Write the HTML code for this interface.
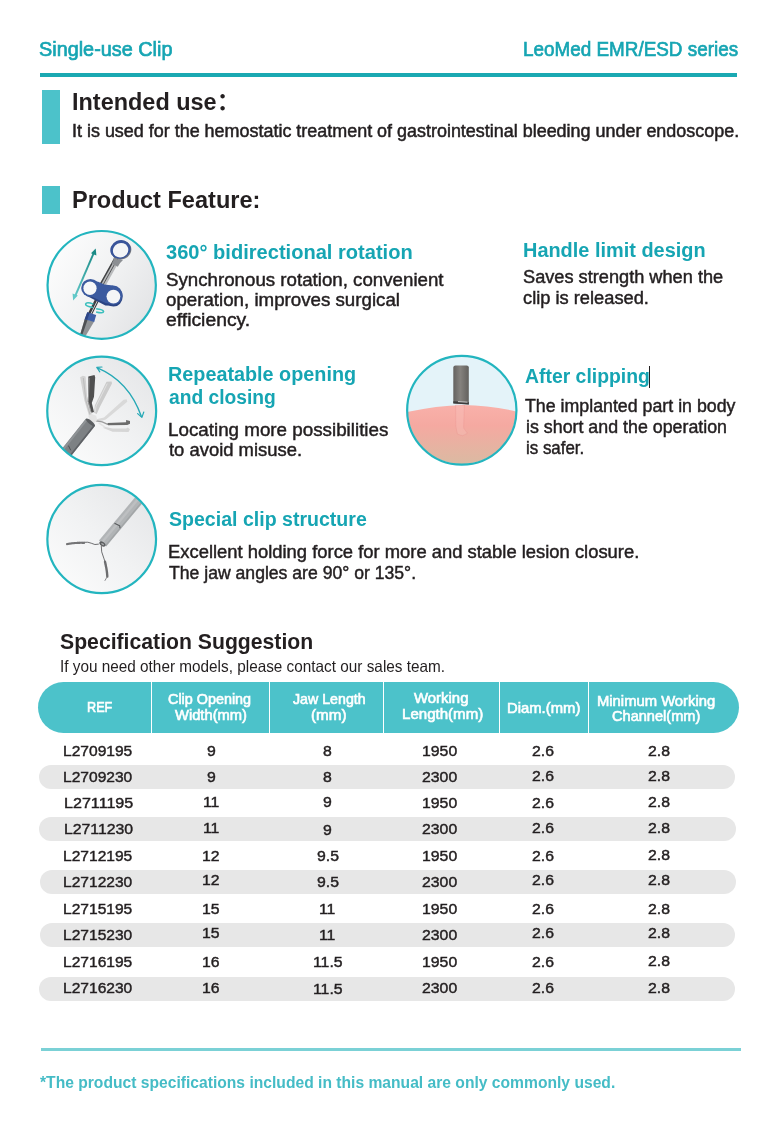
<!DOCTYPE html>
<html lang="en">
<head>
<meta charset="utf-8">
<title>Single-use Clip - LeoMed EMR/ESD series</title>
<style>
html,body{margin:0;padding:0;background:#fff}
#page{position:relative;width:775px;height:1125px;overflow:hidden;background:#fff;
  font-family:"Liberation Sans","Noto Sans CJK SC",sans-serif;color:#231f20}
.t{position:absolute;white-space:nowrap;line-height:1;transform-origin:0 0;display:block}
.r{position:absolute}
svg{position:absolute;left:0;top:0}
</style>
</head>
<body>
<div id="page">
<!-- header rule -->
<div class="r" style="left:40px;top:73px;width:697px;height:3.5px;background:#1aa9b2"></div>
<!-- section bars -->
<div class="r" style="left:42px;top:90px;width:18px;height:53.5px;background:#4cc2ca"></div>
<div class="r" style="left:42px;top:186px;width:18px;height:27.5px;background:#4cc2ca"></div>
<!-- table -->
<div class="r" style="left:38.4px;top:682px;width:700.8px;height:51px;border-radius:25.5px;background:#4cc2ca"></div>
<div class="r" style="left:150.6px;top:682px;width:1.3px;height:51px;background:#fff"></div>
<div class="r" style="left:269px;top:682px;width:1.3px;height:51px;background:#fff"></div>
<div class="r" style="left:382.8px;top:682px;width:1.3px;height:51px;background:#fff"></div>
<div class="r" style="left:499px;top:682px;width:1.3px;height:51px;background:#fff"></div>
<div class="r" style="left:587.8px;top:682px;width:1.3px;height:51px;background:#fff"></div>
<div class="r" style="left:38.6px;top:765px;width:696.4px;height:24px;border-radius:12px;background:#e7e7e7"></div>
<div class="r" style="left:39.4px;top:817px;width:696.6px;height:24px;border-radius:12px;background:#e7e7e7"></div>
<div class="r" style="left:39.6px;top:869.6px;width:696.4px;height:24px;border-radius:12px;background:#e7e7e7"></div>
<div class="r" style="left:39.6px;top:923px;width:695.4px;height:24.4px;border-radius:12px;background:#e7e7e7"></div>
<div class="r" style="left:39px;top:977.4px;width:696px;height:24px;border-radius:12px;background:#e7e7e7"></div>
<!-- footer rule -->
<div class="r" style="left:41px;top:1048px;width:700px;height:2.6px;background:#7bd1d6"></div>
<!-- caret -->
<div class="r" style="left:649.2px;top:365.8px;width:1.2px;height:22.6px;background:#231f20"></div>
<!-- illustrations -->
<svg width="775" height="1125" viewBox="0 0 775 1125">
<defs>
  <linearGradient id="gbg" x1="0" y1="0.2" x2="1" y2="0.8">
    <stop offset="0" stop-color="#fdfdfd"/><stop offset="0.55" stop-color="#f0f1f2"/><stop offset="1" stop-color="#e2e3e5"/>
  </linearGradient>
  <linearGradient id="gbg2" x1="0" y1="1" x2="1" y2="0">
    <stop offset="0" stop-color="#fdfdfd"/><stop offset="0.5" stop-color="#f1f2f3"/><stop offset="1" stop-color="#e3e4e6"/>
  </linearGradient>
  <linearGradient id="garrow" x1="95" y1="249" x2="74" y2="300" gradientUnits="userSpaceOnUse">
    <stop offset="0" stop-color="#178783"/><stop offset="1" stop-color="#66cccc"/>
  </linearGradient>
  <linearGradient id="gtissue" x1="0" y1="404" x2="0" y2="466" gradientUnits="userSpaceOnUse">
    <stop offset="0" stop-color="#f9b1aa"/><stop offset="0.35" stop-color="#f5a9a1"/><stop offset="1" stop-color="#d9bba2"/>
  </linearGradient>
  <linearGradient id="gtube3" x1="453" y1="0" x2="469" y2="0" gradientUnits="userSpaceOnUse">
    <stop offset="0" stop-color="#63615f"/><stop offset="0.45" stop-color="#85827e"/><stop offset="1" stop-color="#62605d"/>
  </linearGradient>
  <clipPath id="c1"><circle cx="101.7" cy="284.9" r="53.6"/></clipPath>
  <clipPath id="c2"><circle cx="101.7" cy="410.9" r="53.8"/></clipPath>
  <clipPath id="c3"><circle cx="461.8" cy="410.2" r="54"/></clipPath>
  <clipPath id="c4"><circle cx="101.7" cy="539" r="53.7"/></clipPath>
</defs>

<!-- circle 1 : handle -->
<circle cx="101.7" cy="284.9" r="53.8" fill="url(#gbg)"/>
<g clip-path="url(#c1)">
  <!-- push/pull arrow -->
  <line x1="93.6" y1="253.4" x2="75.2" y2="296" stroke="url(#garrow)" stroke-width="1.9"/>
  <polygon points="95.7,248.6 96.4,255.6 91,253.2" fill="#1a8a85"/>
  <polygon points="73.1,300.4 72.6,293.4 77.8,295.6" fill="#62c9c9"/>
  <!-- upper shaft -->
  <line x1="117.6" y1="258" x2="102" y2="286" stroke="#b9bbbd" stroke-width="6"/>
  <line x1="115.6" y1="256.9" x2="100" y2="284.9" stroke="#3f4042" stroke-width="1.4"/>
  <line x1="117.9" y1="258.2" x2="102.3" y2="286.2" stroke="#4a4b4d" stroke-width="0.9"/>
  <!-- lower shaft -->
  <line x1="98" y1="298" x2="89" y2="316" stroke="#3f4042" stroke-width="4.2"/>
  <line x1="98.6" y1="298.3" x2="89.6" y2="316.3" stroke="#c9cacc" stroke-width="1"/>
  <!-- taper -->
  <polygon points="84.8,319 94.2,321.6 85.6,336 80.2,334.6" fill="#8f9295"/>
  <polygon points="84.8,319 87.6,319.8 82.2,335.2 80.2,334.6" fill="#4e5053"/>
  <!-- collar -->
  <polygon points="87.3,312.2 96.2,314.9 94.2,321.9 84.7,319.2" fill="#3e5ea6"/>
  <polygon points="87.3,312.2 89.6,312.9 87.2,319.9 84.7,319.2" fill="#2d4584"/>
  <!-- thumb ring -->
  <path d="M113.8,257.2 Q116,259.6 123,260 Q119.6,262.8 117.8,266.8 L111.6,263.6 Q113.8,260.6 113.8,257.2Z" fill="#8c8f93"/>
  <ellipse cx="121.2" cy="250.2" rx="10.3" ry="9.2" fill="#71757f" transform="rotate(-25 121.2 250.2)"/>
  <ellipse cx="120.4" cy="249.4" rx="10.3" ry="9.2" fill="#39549a" transform="rotate(-25 120.4 249.4)"/>
  <ellipse cx="120.6" cy="250.2" rx="7.8" ry="7.1" fill="#f3f4f6" transform="rotate(-25 120.6 250.2)"/>
  <!-- finger piece -->
  <ellipse cx="113.6" cy="296.6" rx="9.1" ry="10" fill="#2b4483"/>
  <polygon points="86,295.6 105.4,305.4 112,305.8 112,300 92,292" fill="#2b4483"/>
  <ellipse cx="90.5" cy="287.9" rx="9.3" ry="9" fill="#3b5a9f"/>
  <ellipse cx="113.4" cy="295.2" rx="9" ry="9.6" fill="#3b5a9f"/>
  <polygon points="97.6,281.6 104.4,284.6 113,285.6 113,303.6 106,303.2 89,295.6" fill="#3b5a9f"/>
  <ellipse cx="90" cy="288.2" rx="6.6" ry="6.7" fill="#f6f7f8"/>
  <ellipse cx="113.4" cy="296.6" rx="6.9" ry="6.9" fill="#f4f5f6"/>
  <!-- rotation arrows -->
  <path d="M93.5,304.1 Q86.4,301.6 85.6,304 Q85.4,306.4 93,307.4" fill="none" stroke="#3bbfbd" stroke-width="1.5"/>
  <path d="M96.1,308.7 Q103,309.4 103.6,311.4 Q103.4,313.8 96.1,311.9" fill="none" stroke="#3bbfbd" stroke-width="1.5"/>
</g>
<ellipse cx="101.7" cy="284.9" rx="54.15" ry="53.90" fill="none" stroke="#23b5bf" stroke-width="2.2"/>

<!-- circle 2 : repeatable opening -->
<circle cx="101.7" cy="410.9" r="54" fill="url(#gbg2)"/>
<g clip-path="url(#c2)" stroke-linecap="round" fill="none">
  <!-- jaws -->
  <polygon points="80.1,377.2 82.9,375.7 85.6,376.5 87.1,396.8 91.8,413.9 91.8,418.2 89.6,417.6 84.4,400.5" fill="#d2d2d2" stroke="none"/>
  <path d="M83.4,378.4 L85.9,400.5 L89.9,413.9" stroke="#b9b9b9" stroke-width="0.9"/>
  <polygon points="106.5,381.8 111.6,381.5 112.0,383.5 99.7,407.2 96.7,413.9 94.0,412.7 94.8,405.4" fill="#cbcbcb" stroke="none"/>
  <path d="M107.1,383.9 L96.1,406.0 L95.2,412.1" stroke="#e6e6e6" stroke-width="0.8"/>
  <polygon points="88.3,376.5 94.5,375.0 95.2,377.2 94.0,396.8 91.8,402.9 94.0,412.1 91.5,412.7 87.9,401.7" fill="#505050" stroke="none"/>
  <path d="M89.1,378.4 L88.3,401.7 L90.8,411.5" stroke="#9a9a9a" stroke-width="0.9"/>
  <polygon points="95.5,419.5 104.0,417.6 123.6,399.8 126.7,399.2 127.3,401.7 105.9,419.5 97.3,421.9" fill="#d9d9d9" stroke="none"/>
  <polygon points="104.0,426.8 112.6,428.6 126.1,428.6 127.9,427.4 130.0,429.3 128.5,432.1 112.6,431.7 103.4,428.0" fill="#d6d6d6" stroke="none"/>
  <path d="M96.1,420.9 L102.2,421.9 L107.7,424.4" stroke="#9c9c9c" stroke-width="1.2"/>
  <polygon points="107.5,423.1 126.1,422.3 126.1,420.1 130.0,421.0 130.0,423.7 127.3,425.0 108.0,425.2" fill="#6c6c6c" stroke="none"/>
  <path d="M99.1,423.1 L104.6,426.8" stroke="#e2e2e2" stroke-width="1.6"/>
  <polygon points="88.1,415.8 91.8,413.9 96.1,415.8 97.3,420.1 94.2,423.1 89.9,420.1" fill="#e4e4e4" stroke="none"/>
  <!-- tube -->
  <line x1="60" y1="460.6" x2="90.2" y2="422.6" stroke="#7d8184" stroke-width="11.6" stroke-linecap="butt"/>
  <line x1="56.4" y1="457.8" x2="86.6" y2="419.8" stroke="#8f9396" stroke-width="2" stroke-linecap="butt"/>
  <line x1="64" y1="463.6" x2="94" y2="425.8" stroke="#5e6165" stroke-width="1.6" stroke-linecap="butt"/>
  <ellipse cx="90.4" cy="422.4" rx="5.8" ry="1.8" transform="rotate(38.5 90.4 422.4)" fill="#5b5e61" stroke="none"/>
  <line x1="68.6" y1="446" x2="70.6" y2="450" stroke="#4f5255" stroke-width="1"/>
  <!-- arc arrow -->
  <path d="M97.4,367.8 Q129,381 141.4,416.6" stroke="#27a9b6" stroke-width="1.4"/>
  <path d="M102,367 L96.8,367.4 L99.8,371.8" stroke="#27a9b6" stroke-width="1.2" stroke-linejoin="round"/>
  <path d="M137.6,413.6 L141.9,417.4 L143.8,412" stroke="#27a9b6" stroke-width="1.2" stroke-linejoin="round"/>
</g>
<ellipse cx="101.7" cy="410.9" rx="54.45" ry="54.20" fill="none" stroke="#23b5bf" stroke-width="2.2"/>

<!-- circle 3 : after clipping -->
<circle cx="461.8" cy="410.2" r="54.2" fill="#e4f3f9"/>
<g clip-path="url(#c3)">
  <path d="M405,412.4 Q436,405.6 463,404.9 Q492,405.2 519,412.2 L519,470 L405,470 Z" fill="url(#gtissue)"/>
  <!-- tube -->
  <path d="M453.3,367.5 Q453.3,365.4 455.5,365.4 L466.6,365.4 Q468.8,365.4 468.8,367.5 L468.8,404.4 L453.3,403.2 Z" fill="url(#gtube3)"/>
  <path d="M453.3,401.2 L468.8,402.2 L468.8,404.6 L453.3,403.4 Z" fill="#3c3c3c"/>
  <path d="M458,401.6 L467.5,402.2" stroke="#d8d8d8" stroke-width="0.9"/>
  <!-- implanted clip -->
  <path d="M455.6,405 L464.4,405 L463.6,428 L467.4,433.2 L462.6,435.8 L457.4,434 L455.8,426 Z" fill="#fbd3ce" fill-opacity="0.22" stroke="#ea8f8c" stroke-opacity="0.6" stroke-width="0.5"/>
</g>
<ellipse cx="461.8" cy="410.2" rx="54.65" ry="54.40" fill="none" stroke="#23b5bf" stroke-width="2.2"/>

<!-- circle 4 : special clip structure -->
<circle cx="101.7" cy="539" r="53.9" fill="url(#gbg2)"/>
<g clip-path="url(#c4)" fill="none">
  <line x1="150.6" y1="486" x2="102.6" y2="543.6" stroke="#b1b4b6" stroke-width="9.4"/>
  <line x1="149.6" y1="485.2" x2="101.6" y2="542.8" stroke="#bdbfc1" stroke-width="2.4"/>
  <line x1="153.4" y1="488.3" x2="105.4" y2="545.9" stroke="#a2a5a7" stroke-width="1.4"/>
  <path d="M114.5,523.3 L119.7,525.8 L120.0,528.2" stroke="#55575a" stroke-width="1.1"/>
  <ellipse cx="102.4" cy="544" rx="3.4" ry="2" transform="rotate(35 102.4 544)" fill="#5c5e60"/>
  <ellipse cx="102.6" cy="544.1" rx="1.6" ry="0.8" transform="rotate(35 102.6 544.1)" fill="#a9abad"/>
  <!-- arms -->
  <path d="M98.8,544.1 Q94.8,545.4 91.2,543.2 Q88.1,541.7 83.8,542.3" stroke="#5f5f61" stroke-width="0.9"/>
  <path d="M84.1,542.9 Q75.8,542.5 67.0,544.1" stroke="#747476" stroke-width="2.1" stroke-linecap="round" stroke-dasharray="1.2 0.45"/>
  <path d="M101.3,545.9 Q100.8,551.7 103.8,558.1 L105.0,561.8" stroke="#5f5f61" stroke-width="0.9"/>
  <path d="M105.0,561.8 Q107.0,570.1 107.3,576.5" stroke="#6d6d6f" stroke-width="2.4" stroke-linecap="round" stroke-dasharray="1.2 0.45"/>
  <path d="M107.3,576.5 L104.8,580.8" stroke="#6d6d6f" stroke-width="0.8"/>
</g>
<ellipse cx="101.7" cy="539" rx="54.35" ry="54.10" fill="none" stroke="#23b5bf" stroke-width="2.2"/>
</svg>

<!-- text layer -->
<span class="t" style="left:38.83px;top:38.00px;font-size:21px;color:#16a5b3;-webkit-text-stroke:0.7px currentColor;transform:scaleX(0.9447)">Single-use Clip</span>
<span class="t" style="left:523.38px;top:38.00px;font-size:21px;color:#16a5b3;-webkit-text-stroke:0.7px currentColor;transform:scaleX(0.8989)">LeoMed EMR/ESD series</span>
<span class="t" style="left:72.10px;top:90.80px;font-size:23.5px;font-weight:700;transform:scaleX(0.9980)">Intended use：</span>
<span class="t" style="left:72.22px;top:122.50px;font-size:17.5px;-webkit-text-stroke:0.5px currentColor;transform:scaleX(1.0251)">It is used for the hemostatic treatment of gastrointestinal bleeding under endoscope.</span>
<span class="t" style="left:72.10px;top:188.80px;font-size:23.5px;font-weight:700;transform:scaleX(1.0019)">Product Feature:</span>
<span class="t" style="left:165.99px;top:242.50px;font-size:19.5px;font-weight:700;color:#16a5b3;transform:scaleX(1.0294)">360° bidirectional rotation</span>
<span class="t" style="left:165.97px;top:271.70px;font-size:17.5px;-webkit-text-stroke:0.45px currentColor;transform:scaleX(1.0685)">Synchronous rotation, convenient</span>
<span class="t" style="left:165.97px;top:291.50px;font-size:17.5px;-webkit-text-stroke:0.45px currentColor;transform:scaleX(1.0690)">operation, improves surgical</span>
<span class="t" style="left:165.95px;top:312.00px;font-size:17.5px;-webkit-text-stroke:0.45px currentColor;transform:scaleX(1.1044)">efficiency.</span>
<span class="t" style="left:522.72px;top:241.00px;font-size:19.5px;font-weight:700;color:#16a5b3;transform:scaleX(1.0213)">Handle limit design</span>
<span class="t" style="left:523.48px;top:269.00px;font-size:17.5px;-webkit-text-stroke:0.45px currentColor;transform:scaleX(1.0392)">Saves strength when the</span>
<span class="t" style="left:523.48px;top:290.00px;font-size:17.5px;-webkit-text-stroke:0.45px currentColor;transform:scaleX(1.0442)">clip is released.</span>
<span class="t" style="left:167.73px;top:365.00px;font-size:19.5px;font-weight:700;color:#16a5b3;transform:scaleX(1.0150)">Repeatable opening</span>
<span class="t" style="left:168.51px;top:388.00px;font-size:19.5px;font-weight:700;color:#16a5b3;transform:scaleX(0.9859)">and closing</span>
<span class="t" style="left:167.66px;top:422.00px;font-size:17.5px;-webkit-text-stroke:0.45px currentColor;transform:scaleX(1.0737)">Locating more possibilities</span>
<span class="t" style="left:169.00px;top:442.00px;font-size:17.5px;-webkit-text-stroke:0.45px currentColor;transform:scaleX(1.0520)">to avoid misuse.</span>
<span class="t" style="left:524.50px;top:367.00px;font-size:19.5px;font-weight:700;color:#16a5b3;transform:scaleX(0.9939)">After clipping</span>
<span class="t" style="left:525.35px;top:398.00px;font-size:17.5px;-webkit-text-stroke:0.45px currentColor;transform:scaleX(1.0157)">The implanted part in body</span>
<span class="t" style="left:525.98px;top:419.00px;font-size:17.5px;-webkit-text-stroke:0.45px currentColor;transform:scaleX(1.0179)">is short and the operation</span>
<span class="t" style="left:526.03px;top:440.00px;font-size:17.5px;-webkit-text-stroke:0.45px currentColor;transform:scaleX(0.9655)">is safer.</span>
<span class="t" style="left:168.50px;top:510.00px;font-size:19.5px;font-weight:700;color:#16a5b3;transform:scaleX(1.0026)">Special clip structure</span>
<span class="t" style="left:167.69px;top:544.00px;font-size:17.5px;-webkit-text-stroke:0.45px currentColor;transform:scaleX(1.0510)">Excellent holding force for more and stable lesion closure.</span>
<span class="t" style="left:168.75px;top:565.00px;font-size:17.5px;-webkit-text-stroke:0.45px currentColor;transform:scaleX(1.0061)">The jaw angles are 90° or 135°.</span>
<span class="t" style="left:60.29px;top:630.80px;font-size:22.5px;font-weight:700;transform:scaleX(0.9421)">Specification Suggestion</span>
<span class="t" style="left:59.91px;top:657.70px;font-size:16.5px;transform:scaleX(0.9288)">If you need other models, please contact our sales team.</span>
<span class="t" style="left:86.53px;top:700.00px;font-size:14.5px;color:#ffffff;-webkit-text-stroke:0.6px currentColor;transform:scaleX(0.8721)">REF</span>
<span class="t" style="left:167.50px;top:692.20px;font-size:14.5px;color:#ffffff;-webkit-text-stroke:0.6px currentColor;transform:scaleX(0.9909)">Clip Opening</span>
<span class="t" style="left:175.45px;top:708.00px;font-size:14.5px;color:#ffffff;-webkit-text-stroke:0.6px currentColor;transform:scaleX(1.0156)">Width(mm)</span>
<span class="t" style="left:293.20px;top:692.20px;font-size:14.5px;color:#ffffff;-webkit-text-stroke:0.6px currentColor;transform:scaleX(0.9796)">Jaw Length</span>
<span class="t" style="left:310.67px;top:708.00px;font-size:14.5px;color:#ffffff;-webkit-text-stroke:0.6px currentColor;transform:scaleX(1.0504)">(mm)</span>
<span class="t" style="left:413.76px;top:690.80px;font-size:14.5px;color:#ffffff;-webkit-text-stroke:0.6px currentColor;transform:scaleX(1.0286)">Working</span>
<span class="t" style="left:401.71px;top:706.80px;font-size:14.5px;color:#ffffff;-webkit-text-stroke:0.6px currentColor;transform:scaleX(1.0392)">Length(mm)</span>
<span class="t" style="left:506.98px;top:701.40px;font-size:14.5px;color:#ffffff;-webkit-text-stroke:0.6px currentColor;transform:scaleX(1.0229)">Diam.(mm)</span>
<span class="t" style="left:597.38px;top:694.00px;font-size:14.5px;color:#ffffff;-webkit-text-stroke:0.6px currentColor;transform:scaleX(1.0211)">Minimum Working</span>
<span class="t" style="left:611.50px;top:709.00px;font-size:14.5px;color:#ffffff;-webkit-text-stroke:0.6px currentColor;transform:scaleX(1.0052)">Channel(mm)</span>
<span class="t" style="left:62.80px;top:742.80px;font-size:15.5px;-webkit-text-stroke:0.45px currentColor;transform:scaleX(1.0044)">L2709195</span>
<span class="t" style="left:206.86px;top:742.80px;font-size:15.5px;-webkit-text-stroke:0.45px currentColor;transform:scaleX(1.0200)">9</span>
<span class="t" style="left:323.34px;top:742.80px;font-size:15.5px;-webkit-text-stroke:0.45px currentColor;transform:scaleX(1.0200)">8</span>
<span class="t" style="left:421.65px;top:742.80px;font-size:15.5px;-webkit-text-stroke:0.45px currentColor;transform:scaleX(1.0200)">1950</span>
<span class="t" style="left:532.24px;top:742.80px;font-size:15.5px;-webkit-text-stroke:0.45px currentColor;transform:scaleX(1.0200)">2.6</span>
<span class="t" style="left:647.63px;top:742.80px;font-size:15.5px;-webkit-text-stroke:0.45px currentColor;transform:scaleX(1.0200)">2.8</span>
<span class="t" style="left:62.80px;top:769.00px;font-size:15.5px;-webkit-text-stroke:0.45px currentColor;transform:scaleX(1.0044)">L2709230</span>
<span class="t" style="left:206.86px;top:769.00px;font-size:15.5px;-webkit-text-stroke:0.45px currentColor;transform:scaleX(1.0200)">9</span>
<span class="t" style="left:323.34px;top:769.00px;font-size:15.5px;-webkit-text-stroke:0.45px currentColor;transform:scaleX(1.0200)">8</span>
<span class="t" style="left:421.90px;top:769.00px;font-size:15.5px;-webkit-text-stroke:0.45px currentColor;transform:scaleX(1.0200)">2300</span>
<span class="t" style="left:532.24px;top:767.50px;font-size:15.5px;-webkit-text-stroke:0.45px currentColor;transform:scaleX(1.0200)">2.6</span>
<span class="t" style="left:647.63px;top:767.50px;font-size:15.5px;-webkit-text-stroke:0.45px currentColor;transform:scaleX(1.0200)">2.8</span>
<span class="t" style="left:63.56px;top:795.20px;font-size:15.5px;-webkit-text-stroke:0.45px currentColor;transform:scaleX(1.0391)">L2711195</span>
<span class="t" style="left:202.78px;top:793.90px;font-size:15.5px;-webkit-text-stroke:0.45px currentColor;transform:scaleX(1.0200)">11</span>
<span class="t" style="left:323.47px;top:793.90px;font-size:15.5px;-webkit-text-stroke:0.45px currentColor;transform:scaleX(1.0200)">9</span>
<span class="t" style="left:421.65px;top:795.20px;font-size:15.5px;-webkit-text-stroke:0.45px currentColor;transform:scaleX(1.0200)">1950</span>
<span class="t" style="left:532.24px;top:794.70px;font-size:15.5px;-webkit-text-stroke:0.45px currentColor;transform:scaleX(1.0200)">2.6</span>
<span class="t" style="left:648.43px;top:794.20px;font-size:15.5px;-webkit-text-stroke:0.45px currentColor;transform:scaleX(1.0200)">2.8</span>
<span class="t" style="left:63.58px;top:821.40px;font-size:15.5px;-webkit-text-stroke:0.45px currentColor;transform:scaleX(1.0195)">L2711230</span>
<span class="t" style="left:202.78px;top:819.60px;font-size:15.5px;-webkit-text-stroke:0.45px currentColor;transform:scaleX(1.0200)">11</span>
<span class="t" style="left:323.47px;top:822.20px;font-size:15.5px;-webkit-text-stroke:0.45px currentColor;transform:scaleX(1.0200)">9</span>
<span class="t" style="left:421.90px;top:821.40px;font-size:15.5px;-webkit-text-stroke:0.45px currentColor;transform:scaleX(1.0200)">2300</span>
<span class="t" style="left:532.24px;top:819.90px;font-size:15.5px;-webkit-text-stroke:0.45px currentColor;transform:scaleX(1.0200)">2.6</span>
<span class="t" style="left:648.43px;top:819.90px;font-size:15.5px;-webkit-text-stroke:0.45px currentColor;transform:scaleX(1.0200)">2.8</span>
<span class="t" style="left:62.80px;top:847.80px;font-size:15.5px;-webkit-text-stroke:0.45px currentColor;transform:scaleX(1.0044)">L2712195</span>
<span class="t" style="left:202.15px;top:847.80px;font-size:15.5px;-webkit-text-stroke:0.45px currentColor;transform:scaleX(1.0200)">12</span>
<span class="t" style="left:316.84px;top:847.80px;font-size:15.5px;-webkit-text-stroke:0.45px currentColor;transform:scaleX(1.0200)">9.5</span>
<span class="t" style="left:421.65px;top:847.80px;font-size:15.5px;-webkit-text-stroke:0.45px currentColor;transform:scaleX(1.0200)">1950</span>
<span class="t" style="left:532.24px;top:847.80px;font-size:15.5px;-webkit-text-stroke:0.45px currentColor;transform:scaleX(1.0200)">2.6</span>
<span class="t" style="left:648.43px;top:847.00px;font-size:15.5px;-webkit-text-stroke:0.45px currentColor;transform:scaleX(1.0200)">2.8</span>
<span class="t" style="left:62.80px;top:873.80px;font-size:15.5px;-webkit-text-stroke:0.45px currentColor;transform:scaleX(1.0044)">L2712230</span>
<span class="t" style="left:202.15px;top:872.00px;font-size:15.5px;-webkit-text-stroke:0.45px currentColor;transform:scaleX(1.0200)">12</span>
<span class="t" style="left:316.84px;top:874.30px;font-size:15.5px;-webkit-text-stroke:0.45px currentColor;transform:scaleX(1.0200)">9.5</span>
<span class="t" style="left:421.90px;top:873.80px;font-size:15.5px;-webkit-text-stroke:0.45px currentColor;transform:scaleX(1.0200)">2300</span>
<span class="t" style="left:532.24px;top:872.30px;font-size:15.5px;-webkit-text-stroke:0.45px currentColor;transform:scaleX(1.0200)">2.6</span>
<span class="t" style="left:648.43px;top:872.30px;font-size:15.5px;-webkit-text-stroke:0.45px currentColor;transform:scaleX(1.0200)">2.8</span>
<span class="t" style="left:62.80px;top:900.80px;font-size:15.5px;-webkit-text-stroke:0.45px currentColor;transform:scaleX(1.0044)">L2715195</span>
<span class="t" style="left:202.15px;top:900.80px;font-size:15.5px;-webkit-text-stroke:0.45px currentColor;transform:scaleX(1.0200)">15</span>
<span class="t" style="left:319.38px;top:900.80px;font-size:15.5px;-webkit-text-stroke:0.45px currentColor;transform:scaleX(1.0200)">11</span>
<span class="t" style="left:421.65px;top:900.80px;font-size:15.5px;-webkit-text-stroke:0.45px currentColor;transform:scaleX(1.0200)">1950</span>
<span class="t" style="left:532.24px;top:900.80px;font-size:15.5px;-webkit-text-stroke:0.45px currentColor;transform:scaleX(1.0200)">2.6</span>
<span class="t" style="left:648.43px;top:900.80px;font-size:15.5px;-webkit-text-stroke:0.45px currentColor;transform:scaleX(1.0200)">2.8</span>
<span class="t" style="left:62.80px;top:926.80px;font-size:15.5px;-webkit-text-stroke:0.45px currentColor;transform:scaleX(1.0044)">L2715230</span>
<span class="t" style="left:202.15px;top:925.30px;font-size:15.5px;-webkit-text-stroke:0.45px currentColor;transform:scaleX(1.0200)">15</span>
<span class="t" style="left:319.38px;top:927.30px;font-size:15.5px;-webkit-text-stroke:0.45px currentColor;transform:scaleX(1.0200)">11</span>
<span class="t" style="left:421.90px;top:926.80px;font-size:15.5px;-webkit-text-stroke:0.45px currentColor;transform:scaleX(1.0200)">2300</span>
<span class="t" style="left:532.24px;top:925.30px;font-size:15.5px;-webkit-text-stroke:0.45px currentColor;transform:scaleX(1.0200)">2.6</span>
<span class="t" style="left:648.43px;top:925.30px;font-size:15.5px;-webkit-text-stroke:0.45px currentColor;transform:scaleX(1.0200)">2.8</span>
<span class="t" style="left:62.80px;top:954.00px;font-size:15.5px;-webkit-text-stroke:0.45px currentColor;transform:scaleX(1.0044)">L2716195</span>
<span class="t" style="left:202.15px;top:953.70px;font-size:15.5px;-webkit-text-stroke:0.45px currentColor;transform:scaleX(1.0200)">16</span>
<span class="t" style="left:312.75px;top:953.70px;font-size:15.5px;-webkit-text-stroke:0.45px currentColor;transform:scaleX(1.0200)">11.5</span>
<span class="t" style="left:421.65px;top:954.00px;font-size:15.5px;-webkit-text-stroke:0.45px currentColor;transform:scaleX(1.0200)">1950</span>
<span class="t" style="left:532.24px;top:954.00px;font-size:15.5px;-webkit-text-stroke:0.45px currentColor;transform:scaleX(1.0200)">2.6</span>
<span class="t" style="left:648.43px;top:953.20px;font-size:15.5px;-webkit-text-stroke:0.45px currentColor;transform:scaleX(1.0200)">2.8</span>
<span class="t" style="left:62.80px;top:980.40px;font-size:15.5px;-webkit-text-stroke:0.45px currentColor;transform:scaleX(1.0044)">L2716230</span>
<span class="t" style="left:202.15px;top:980.40px;font-size:15.5px;-webkit-text-stroke:0.45px currentColor;transform:scaleX(1.0200)">16</span>
<span class="t" style="left:312.75px;top:981.20px;font-size:15.5px;-webkit-text-stroke:0.45px currentColor;transform:scaleX(1.0200)">11.5</span>
<span class="t" style="left:421.90px;top:980.40px;font-size:15.5px;-webkit-text-stroke:0.45px currentColor;transform:scaleX(1.0200)">2300</span>
<span class="t" style="left:532.24px;top:980.40px;font-size:15.5px;-webkit-text-stroke:0.45px currentColor;transform:scaleX(1.0200)">2.6</span>
<span class="t" style="left:648.43px;top:980.40px;font-size:15.5px;-webkit-text-stroke:0.45px currentColor;transform:scaleX(1.0200)">2.8</span>
<span class="t" style="left:39.77px;top:1074.00px;font-size:17px;font-weight:700;color:#45bcc6;transform:scaleX(0.9199)">*The product specifications included in this manual are only commonly used.</span>
</div>
</body>
</html>
